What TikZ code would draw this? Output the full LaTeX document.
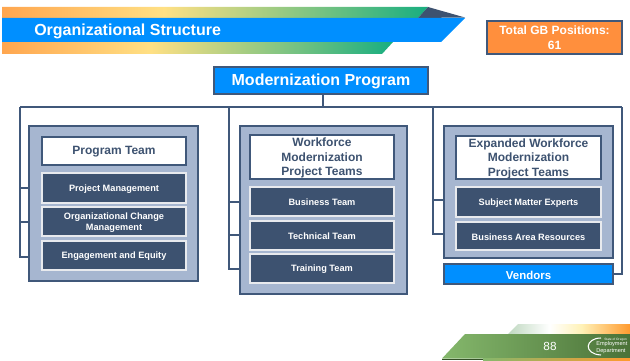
\documentclass[tikz,border=0pt]{standalone}
\usepackage{fontspec}
\setmainfont{Liberation Sans}
\definecolor{linec}{HTML}{40587A}
\definecolor{panelc}{HTML}{A6B6D0}
\definecolor{itemc}{HTML}{3D5270}
\definecolor{blueb}{HTML}{008FFF}
\definecolor{orangeb}{HTML}{FF8F3D}
\definecolor{sA}{HTML}{FFA64F}
\definecolor{sB}{HTML}{FFE084}
\definecolor{sC}{HTML}{18AE80}
\pgfdeclarehorizontalshading{bandShade}{100bp}{color(0bp)=(sA);color(25bp)=(sA);color(44bp)=(sB);color(75bp)=(sC);color(100bp)=(sC)}
\definecolor{gA}{HTML}{85B86C}
\definecolor{gB}{HTML}{4A7238}
\pgfdeclarehorizontalshading{footShade}{100bp}{color(0bp)=(gA);color(25bp)=(gA);color(75bp)=(gB);color(100bp)=(gB)}
\definecolor{oA}{HTML}{FF9A2E}
\definecolor{oB}{HTML}{FFF2B8}
\definecolor{oC}{HTML}{BFD8C0}
\pgfdeclarehorizontalshading{footTop}{100bp}{color(0bp)=(oC);color(25bp)=(oC);color(42bp)=(white);color(55bp)=(oB);color(75bp)=(oA);color(100bp)=(oA)}
\tikzset{
  px/.style={x=0.75pt,y=-0.75pt},
  base/.style={rectangle,outer sep=0pt,inner sep=0pt,align=center,font=\bfseries},
  panelbox/.style={base,fill=panelc,draw=linec,line width=0.9pt},
  headbox/.style={base,fill=white,draw=linec,line width=0.9pt,text=itemc,font=\bfseries\fontsize{9}{10.8}\selectfont},
  itembox/.style={base,fill=itemc,draw=white!88!itemc,line width=0.9pt,text=white,font=\bfseries\fontsize{6.9}{8.3}\selectfont},
  bluebox/.style={base,fill=blueb,draw=linec,line width=1.1pt,text=white},
  orangebox/.style={base,fill=orangeb,draw=linec,line width=1.1pt,text=white,font=\bfseries\fontsize{9}{11}\selectfont},
  conn/.style={draw=linec,line width=1.1pt},
}
% \bx{name}{x1}{y1}{x2}{y2}{style}{text}: a box, and its text set a little lower in a node of its own
\newcommand{\bx}[7]{%
  \pgfmathsetmacro{\bxw}{(#4-#2)*0.75}%
  \pgfmathsetmacro{\bxh}{(#5-#3)*0.75}%
  \node[#6,minimum width=\bxw pt,minimum height=\bxh pt] (#1) at ({(#2+#4)/2},{(#3+#5)/2}) {};
  \node[#6,draw=none,fill=none,yshift=-0.8pt] (#1t) at (#1.center) {#7};}
\begin{document}
\begin{tikzpicture}[px]
\useasboundingbox (0,0) rectangle (630,360);
% banner
\shade[shading=bandShade] (2,7) -- (428,7) -- (418,18) -- (2,18) -- cycle;
\shade[shading=bandShade] (2,42) -- (393,42) -- (382,54) -- (2,54) -- cycle;
\fill[itemc] (428,7) -- (465,17.5) -- (418,18) -- cycle;
\fill[blueb] (2,18) -- (465,18) -- (441,42) -- (2,42) -- cycle;
\node[anchor=west,inner sep=0pt,text=white,font=\bfseries\fontsize{12}{14}\selectfont] (title) at (34,31) {Organizational Structure};
% footer
\shade[shading=footTop] (518,324) -- (630,324) -- (630,334) -- (508,334) -- cycle;
\shade[shading=footShade] (465,334) -- (630,334) -- (630,358.5) -- (442,358.5) -- cycle;
\fill[gB!70!black] (442,358.5) rectangle (483,360);
\shade[left color=gA,right color=oA] (483,358.5) rectangle (630,360);
\node[inner sep=0pt,text=white,font=\fontsize{8.8}{10}\selectfont] (pagenum) at (550,346) {88};
\draw[white,line width=0.8pt] (601,338) .. controls (585,338) and (583,354) .. (601,355);
\node[inner sep=0pt,text=white,font=\fontsize{2.4}{3}\selectfont,anchor=west] (logoa) at (604,339.5) {State of Oregon};
\node[inner sep=0pt,text=white,font=\fontsize{4.2}{4.8}\selectfont,align=left,anchor=west] (logob) at (596,347.5) {Employment\\Department};
% top boxes
\node[orangebox,minimum width=101.25pt,minimum height=24.75pt] (total) at (554.5,37.5) {Total GB Positions:\\61};
\bx{prog}{214}{67}{428}{94}{bluebox,font=\bfseries\fontsize{12}{14}\selectfont}{Modernization Program}
% left panel
\bx{p1}{29}{126}{198}{281}{panelbox}{}
\bx{h1}{42}{137}{186}{165}{headbox}{Program Team}
\bx{a1}{42}{173}{186}{203}{itembox}{Project Management}
\bx{a2}{42}{207}{186}{236}{itembox}{Organizational Change\\Management}
\bx{a3}{42}{241}{186}{270}{itembox}{Engagement and Equity}
% middle panel
\bx{p2}{240}{126}{407}{294}{panelbox}{}
\bx{h2}{250}{135}{394}{179}{headbox}{Workforce\\Modernization\\Project Teams}
\bx{b1}{250}{187}{394}{216}{itembox}{Business Team}
\bx{b2}{250}{221}{394}{250}{itembox}{Technical Team}
\bx{b3}{250}{254}{394}{283}{itembox}{Training Team}
% right panel
\bx{p3}{444}{126}{613}{258}{panelbox}{}
\bx{h3}{456}{136}{601}{179}{headbox}{Expanded Workforce\\Modernization\\Project Teams}
\bx{c1}{456}{187}{601}{217}{itembox}{Subject Matter Experts}
\bx{c2}{456}{222}{601}{250}{itembox}{Business Area Resources}
\bx{vend}{444}{264}{613}{284}{bluebox,font=\bfseries\fontsize{8.6}{10}\selectfont}{Vendors}
% connectors
\coordinate (bus) at (323,107);
\coordinate (busL) at (20,107);
\coordinate (busM) at (229,107);
\coordinate (busR) at (433,107);
\coordinate (busE) at (622,107);
\path[conn] (prog.south -| bus) -- (bus);
\path[conn] (busL) -- (busE);
\path[conn] (busE) |- (vend.east);
\coordinate (t1) at (29,188); \coordinate (t2) at (29,222); \coordinate (t3) at (29,257);
\path[conn] (busL) |- (t3);
\path[conn] (t1) -- (t1 -| busL);
\path[conn] (t2) -- (t2 -| busL);
\coordinate (m1) at (240,202); \coordinate (m2) at (240,235); \coordinate (m3) at (240,269);
\path[conn] (busM) |- (m3);
\path[conn] (m1) -- (m1 -| busM);
\path[conn] (m2) -- (m2 -| busM);
\coordinate (r1) at (444,200); \coordinate (r2) at (444,234);
\path[conn] (busR) |- (r2);
\path[conn] (r1) -- (r1 -| busR);
\end{tikzpicture}
\end{document}
